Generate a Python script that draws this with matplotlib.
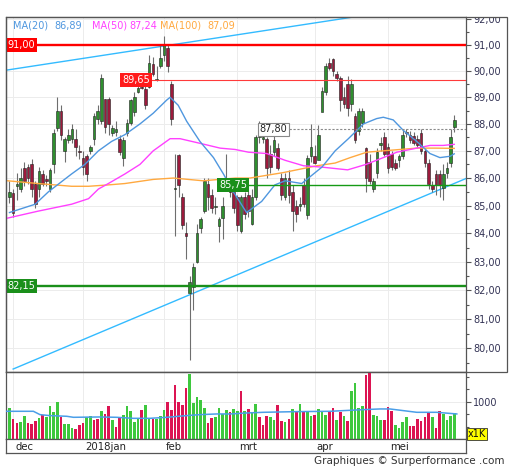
import numpy as np
import matplotlib
matplotlib.use("Agg")
import matplotlib.pyplot as plt
from matplotlib.patches import Rectangle
from matplotlib.ticker import FixedLocator, FuncFormatter, NullFormatter
import matplotlib.transforms as mtransforms

# daily candles, 30 nov 2017 .. 24 mei 2018 (index 0 = first visible day)
opens = [
    85.30, 85.45, 85.70, 85.60, 86.35, 86.40, 86.50, 85.80, 85.60, 86.15,
    85.95, 85.60, 86.50, 87.85, 88.50, 87.00, 87.40, 87.45, 87.45, 87.00,
    86.75, 86.80, 87.00, 87.45, 88.20, 88.10, 88.95, 88.95, 87.65, 87.70,
    87.45, 86.75, 87.65, 88.05, 88.45, 89.20, 89.40, 89.30, 89.40, 90.25,
    89.65, 90.20, 90.60, 90.90, 89.50, 85.60, 86.85, 85.30, 84.00, 81.90,
    82.10, 83.00, 84.20, 84.80, 85.80, 85.40, 84.95, 84.25, 84.55, 85.75,
    85.85, 85.50, 85.30, 84.10, 85.30, 85.40, 84.35, 85.30, 87.50, 87.45,
    87.45, 86.90, 86.95, 87.10, 86.00, 85.30, 86.00, 85.50, 85.00, 85.00,
    85.75, 84.65, 86.80, 86.80, 86.65, 88.45, 89.20, 90.30, 90.45, 89.90,
    89.75, 89.00, 89.50, 88.75, 88.30, 87.75, 88.05, 87.10, 86.60, 85.60,
    86.20, 87.20, 87.50, 87.15, 86.90, 86.55, 86.65, 86.80, 87.70, 87.60,
    87.55, 87.45, 87.65, 87.00, 86.55, 85.75, 86.15, 86.15, 85.65, 86.20,
    86.55, 87.90]
highs = [
    85.90, 85.60, 86.20, 86.35, 86.60, 86.50, 86.70, 85.90, 86.40, 86.30,
    86.10, 86.35, 87.80, 89.00, 88.70, 87.50, 87.80, 88.00, 87.80, 87.20,
    87.00, 86.90, 87.20, 88.40, 88.70, 89.90, 88.95, 89.00, 87.95, 88.10,
    87.60, 87.50, 88.20, 88.95, 89.20, 89.55, 89.50, 89.50, 90.60, 90.55,
    90.20, 91.00, 91.35, 91.00, 89.60, 86.90, 86.90, 85.45, 84.40, 82.50,
    82.95, 84.35, 84.60, 86.00, 86.00, 85.60, 85.30, 84.60, 85.30, 86.90,
    85.95, 85.60, 85.40, 85.40, 85.50, 85.70, 85.60, 87.60, 88.10, 87.80,
    87.50, 87.20, 87.65, 87.30, 86.20, 86.20, 86.30, 85.75, 85.20, 85.30,
    86.00, 86.85, 88.00, 87.20, 87.95, 89.40, 90.30, 90.50, 90.50, 90.00,
    89.80, 89.40, 89.80, 89.70, 88.40, 88.60, 88.60, 87.15, 86.90, 86.00,
    87.10, 87.50, 87.70, 87.30, 87.00, 86.70, 86.90, 87.80, 87.80, 87.75,
    87.70, 87.60, 87.80, 87.10, 86.70, 85.90, 86.30, 86.30, 86.50, 86.60,
    87.80, 88.35]
lows = [
    85.10, 84.60, 85.20, 85.50, 85.70, 85.80, 85.30, 84.90, 85.30, 85.70,
    85.70, 85.50, 86.20, 87.75, 87.40, 86.60, 87.30, 87.30, 86.80, 86.70,
    86.10, 85.90, 86.90, 87.20, 88.00, 88.00, 87.65, 87.60, 87.55, 87.55,
    86.85, 86.45, 87.55, 87.95, 88.30, 89.15, 89.30, 88.55, 89.35, 89.80,
    89.60, 90.10, 90.40, 89.95, 87.95, 83.90, 85.30, 84.15, 83.10, 79.60,
    81.30, 82.95, 84.00, 84.75, 84.85, 84.75, 84.70, 83.70, 83.80, 85.60,
    85.30, 84.75, 84.10, 84.00, 84.50, 84.60, 84.30, 85.20, 87.30, 87.30,
    86.00, 86.20, 86.80, 86.30, 85.20, 85.20, 85.10, 84.10, 84.40, 84.80,
    84.95, 84.50, 86.60, 86.50, 86.70, 88.50, 89.10, 90.05, 89.80, 89.60,
    88.50, 88.60, 88.30, 88.50, 87.30, 87.60, 87.90, 85.50, 85.80, 85.50,
    86.00, 87.00, 86.80, 86.20, 86.30, 86.30, 86.40, 86.70, 87.50, 87.30,
    87.20, 87.10, 86.90, 86.40, 85.60, 85.50, 85.40, 85.30, 85.20, 86.00,
    86.40, 87.70]
closes = [
    85.50, 84.75, 85.80, 86.00, 85.90, 86.00, 85.60, 85.05, 86.25, 85.80,
    85.90, 86.30, 87.65, 88.50, 87.60, 87.45, 87.60, 87.80, 87.15, 86.95,
    86.40, 86.15, 87.15, 88.30, 88.50, 89.75, 87.90, 88.00, 87.85, 87.80,
    86.95, 87.40, 88.05, 88.90, 89.00, 89.35, 89.35, 88.70, 90.30, 89.90,
    89.70, 90.50, 91.00, 90.20, 88.20, 85.60, 85.75, 84.30, 83.90, 82.30,
    82.80, 84.00, 84.50, 85.90, 85.30, 84.90, 84.95, 84.50, 85.00, 86.00,
    85.50, 84.90, 84.30, 85.30, 84.70, 84.80, 85.30, 87.50, 87.60, 87.50,
    86.35, 86.40, 87.40, 86.35, 85.40, 86.00, 85.40, 84.80, 84.70, 85.05,
    85.05, 86.75, 87.15, 86.55, 87.60, 89.25, 90.20, 90.10, 90.00, 89.75,
    88.90, 88.75, 88.60, 89.50, 87.40, 88.50, 88.50, 86.00, 85.90, 85.90,
    86.95, 87.30, 86.90, 86.35, 86.40, 86.35, 86.80, 87.60, 87.65, 87.40,
    87.30, 87.20, 87.00, 86.55, 85.80, 85.60, 85.75, 85.75, 86.15, 86.35,
    87.50, 88.15]

# volume in thousands, colour as shown under each day (g = up, r = down)
volumes = [
    833, 541, 434, 461, 612, 434, 408, 479, 567, 638,
    585, 878, 718, 993, 585, 408, 408, 301, 284, 372,
    434, 585, 612, 523, 541, 762, 683, 878, 523, 328,
    567, 638, 878, 745, 461, 550, 789, 904, 567, 550,
    550, 612, 789, 993, 789, 1436, 993, 904, 1365, 1738,
    966, 1126, 1055, 833, 434, 567, 585, 833, 674, 789,
    727, 800, 760, 1277, 745, 807, 727, 940, 585, 390,
    612, 585, 523, 904, 496, 461, 541, 807, 727, 940,
    718, 727, 612, 638, 807, 762, 656, 727, 833, 523,
    718, 612, 496, 1277, 1498, 833, 878, 1720, 1791, 638,
    612, 523, 523, 851, 745, 390, 301, 470, 603, 355,
    355, 532, 488, 603, 718, 603, 293, 762, 674, 514,
    620, 691]
vol_dir = ("grrggrrrgr" "ggggrgggrr" "rggrrgrrgr" "rgggggrggr"
           "gggrrrrrrg" "ggggrrgggg" "rggrgrggrr" "rggrrgrgrg"
           "rggrgggrrg" "rgrggggrrg" "ggrrrggggr" "rrrrrgrrgg" "gg")

# moving averages (day index, value)
ma20_x = [0, 7, 10.6, 16.9, 20.5, 24.2, 27.8, 31.4, 35.5, 39.1, 42.8, 43.7,
          45.9, 48.2, 51.8, 55.5, 58.2, 60.9, 64.5, 68.6, 72.2, 75, 79.5, 85,
          88.6, 92.2, 96.3, 99.9, 101.7, 104.4, 107.2, 110.8, 114.4, 117.1,
          119.9, 121]
ma20_y = [84.75, 85.05, 85.5, 86.15, 86.5, 87.0, 87.35, 87.6, 88.0, 88.4,
          88.9, 89.0, 88.7, 88.1, 87.35, 86.75, 86.15, 85.5, 84.75, 85.15,
          85.75, 85.9, 85.8, 86.4, 87.0, 87.45, 88.0, 88.2, 88.25, 88.15,
          87.75, 87.35, 86.9, 86.75, 86.8, 86.89]
ma50_x = [-0.5, 7.8, 16.9, 21.5, 24.2, 26.9, 31.4, 35.5, 39.1, 43.7, 46.4,
          52.7, 57.3, 61.4, 65, 70, 75, 80, 85, 92, 97, 101.7, 105.4, 110.8,
          114.4, 118, 121]
ma50_y = [84.55, 84.8, 85.05, 85.25, 85.6, 85.8, 86.15, 86.5, 87.0, 87.45,
          87.45, 87.25, 87.1, 87.05, 86.95, 86.9, 86.65, 86.45, 86.4, 86.3,
          86.5, 86.75, 86.95, 87.1, 87.2, 87.2, 87.24]
ma100_x = [-0.5, 7.8, 16.9, 21.5, 26.9, 31.4, 39.1, 44.6, 52.7, 61.4, 65.4,
           74.5, 83.6, 88.6, 92.7, 97.2, 101.7, 110.8, 116, 121]
ma100_y = [85.9, 85.8, 85.7, 85.7, 85.75, 85.8, 85.95, 86.0, 85.9, 86.0,
           86.0, 86.2, 86.45, 86.55, 86.75, 86.95, 87.0, 87.1, 87.1, 87.09]
volma_x = [-1, 6.5, 8.3, 11, 15.6, 17.4, 24.6, 29.2, 33.7, 38.2, 42.8, 48.2,
           51.8, 56.4, 60, 64.5, 69, 78, 87.2, 96.3, 100.8, 103.5, 107.2,
           110.8, 116.2, 121.7]
volma_y = [745, 745, 656, 630, 612, 585, 594, 585, 558, 558, 585, 630, 656,
           674, 674, 700, 718, 736, 745, 789, 807, 807, 762, 718, 718, 674]

# trend lines (two points each)
trend_hi_x = [-1, 110]
trend_hi_y = [90.03, 92.45]
trend_lo_x = [1, 124.5]
trend_lo_y = [79.3, 86.0]

# horizontal levels
levels = [91.00, 89.65, 87.80, 85.75, 82.15]
level_from = [-1, 30.3, 67.7, 56.7, -1]

legend_names = ["MA(20)", "MA(50)", "MA(100)"]
legend_values = ["86,89", "87,24", "87,09"]

price_ticks = [80, 81, 82, 83, 84, 85, 86, 87, 88, 89, 90, 91, 92]
price_minor = [79.5, 80.5, 81.5, 82.5, 83.5, 84.5, 85.5, 86.5, 87.5, 88.5,
               89.5, 90.5, 91.5]
month_start = [1, 20, 42, 62, 83, 103]
month_labels = ["dec", "2018jan", "feb", "mrt", "apr", "mei"]

GREEN, RED = "#2f8f2f", "#9c1a3c"
VGREEN, VRED = "#3ec83e", "#dc1452"
C20, C50, C100 = "#4f97df", "#ff40ff", "#ffa940"
TREND = "#33bbff"
FRAME = "#555555"
TXT = "#333355"

W, H = 512, 470
fig = plt.figure(figsize=(W / 100, H / 100), dpi=100)


def box(x0, y0, x1, y1):
    # pixel box with top-left origin -> figure rect
    return [x0 / W, 1 - y1 / H, (x1 - x0) / W, (y1 - y0) / H]


ax = fig.add_axes(box(6, 16.7, 466, 371.7))
axv = fig.add_axes(box(6, 371.7, 466, 439.3), sharex=ax)
axd = fig.add_axes(box(6, 439.3, 466, 453.3), sharex=ax)

o, h, l, c = map(np.array, (opens, highs, lows, closes))
idx = np.arange(len(c))
up = c >= o

# ---- price panel
ax.set_yscale("log")
ax.set_xlim(-0.95, 124.2)
ax.set_ylim(79.21, 92.1)

for t in price_ticks:
    ax.axhline(t, color="#ececec", lw=0.7, zorder=0)
for m in month_start:
    for a in (ax, axv):
        a.axvline(m, color="#ececec", lw=0.7, zorder=0)

ax.plot(trend_hi_x, trend_hi_y, color=TREND, lw=1.0, zorder=2)
ax.plot(trend_lo_x, trend_lo_y, color=TREND, lw=1.0, zorder=2)

ax.vlines(idx, l, h, color="#6e6e6e", lw=0.8, zorder=3)
ax.bar(idx, np.maximum(np.abs(c - o), 0.05), bottom=np.minimum(o, c),
       width=0.72, color=np.where(up, GREEN, RED), edgecolor="#202020",
       linewidth=0.4, zorder=4)

ax.plot(ma100_x, ma100_y, color=C100, lw=1.0, zorder=5)
ax.plot(ma50_x, ma50_y, color=C50, lw=1.0, zorder=5)
ax.plot(ma20_x, ma20_y, color=C20, lw=1.0, zorder=5)

lvl_style = [
    dict(color="#ff0000", lw=1.7),
    dict(color="#ff3a3a", lw=0.8),
    dict(color="#8a8a8a", lw=0.8, ls=(0, (2, 1.5))),
    dict(color="#159a15", lw=1.0),
    dict(color="#1a8f1a", lw=1.7),
]
lbl_style = [("#ff0000", "white", "none"), ("#ff1a1a", "white", "none"),
             ("white", "#222222", "#888888"), ("#1a8f1a", "white", "none"),
             ("#1a8f1a", "white", "none")]
for lv, x0, st, (fc, tc, ec) in zip(levels, level_from, lvl_style, lbl_style):
    ax.plot([x0, 125], [lv, lv], zorder=6, **st)
    ax.text(max(x0, -0.95) + 0.35, lv, f"{lv:.2f}".replace(".", ","),
            ha="left", va="center", fontsize=7, color=tc, zorder=8,
            bbox=dict(boxstyle="square,pad=0.18", fc=fc, ec=ec, lw=0.8))

ax.yaxis.tick_right()
ax.yaxis.set_major_locator(FixedLocator(price_ticks))
ax.yaxis.set_minor_locator(FixedLocator(price_minor))
ax.yaxis.set_major_formatter(FuncFormatter(lambda v, p: f"{v:.2f}".replace(".", ",")))
ax.yaxis.set_minor_formatter(NullFormatter())
ax.tick_params(axis="y", which="major", length=3.5, width=0.8, labelsize=7,
               labelcolor=TXT, color=FRAME, pad=1.5)
ax.tick_params(axis="y", which="minor", length=2.5, width=0.8, color=FRAME)
ax.tick_params(axis="x", which="both", bottom=False, labelbottom=False)

# ---- volume panel
axv.bar(idx, volumes, width=0.72,
        color=[VGREEN if d == "g" else VRED for d in vol_dir], zorder=3)
axv.plot(volma_x, volma_y, color="#4a9ee8", lw=1.1, zorder=4)
axv.axhline(1000, color="#ececec", lw=0.7, zorder=0)
axv.set_ylim(0, 1798)
axv.yaxis.tick_right()
axv.yaxis.set_major_locator(FixedLocator([1000]))
axv.yaxis.set_minor_locator(FixedLocator([333, 667, 1333, 1667]))
axv.yaxis.set_minor_formatter(NullFormatter())
axv.tick_params(axis="y", which="major", length=3.5, width=0.8, labelsize=7,
                labelcolor=TXT, color=FRAME, pad=1.5)
axv.tick_params(axis="y", which="minor", length=2.5, width=0.8, color=FRAME)
axv.tick_params(axis="x", which="both", bottom=False, labelbottom=False)

# ---- date strip
axd.set_yticks([])
axd.tick_params(axis="x", which="both", bottom=False, labelbottom=False)
trans = mtransforms.blended_transform_factory(axd.transData, axd.transAxes)
for m, lab in zip(month_start, month_labels):
    axd.text(m + 0.5, 0.45, lab, transform=trans, ha="left", va="center",
             fontsize=7.3, color="#222222")

for a in (ax, axv, axd):
    for s in a.spines.values():
        s.set_color(FRAME)
        s.set_linewidth(0.9)

# outer frame of the price panel incl. the label column
fig.add_artist(Rectangle((6 / W, 1 - 371.7 / H), 500.7 / W, 355 / H,
                         transform=fig.transFigure, fill=False, ec=FRAME,
                         lw=0.9, zorder=10))
# top label is cut by the frame
fig.add_artist(Rectangle((467 / W, 1 - 18.4 / H), 45 / W, 18.4 / H,
                         transform=fig.transFigure, fc="white", ec="none",
                         zorder=9))

# legend
for name, val, col, xn, xv in zip(legend_names, legend_values, (C20, C50, C100),
                                  (12.7, 91.7, 160), (54, 129, 207)):
    fig.text(xn / W, 1 - 25.7 / H, name, color=col, fontsize=7, va="center")
    fig.text(xv / W, 1 - 25.7 / H, val, color=col, fontsize=7, va="center")

fig.text(468 / W, 1 - 434 / H, "x1K", fontsize=7, color="#111111",
         va="center", ha="left",
         bbox=dict(boxstyle="square,pad=0.12", fc="#ffff00", ec="#333333", lw=0.6))
fig.text(505 / W, 1 - 461 / H, "Graphiques \u00a9 Surperformance .com",
         fontsize=7.5, color="#333333", ha="right", va="center")

fig.savefig("out.png", dpi=100)
